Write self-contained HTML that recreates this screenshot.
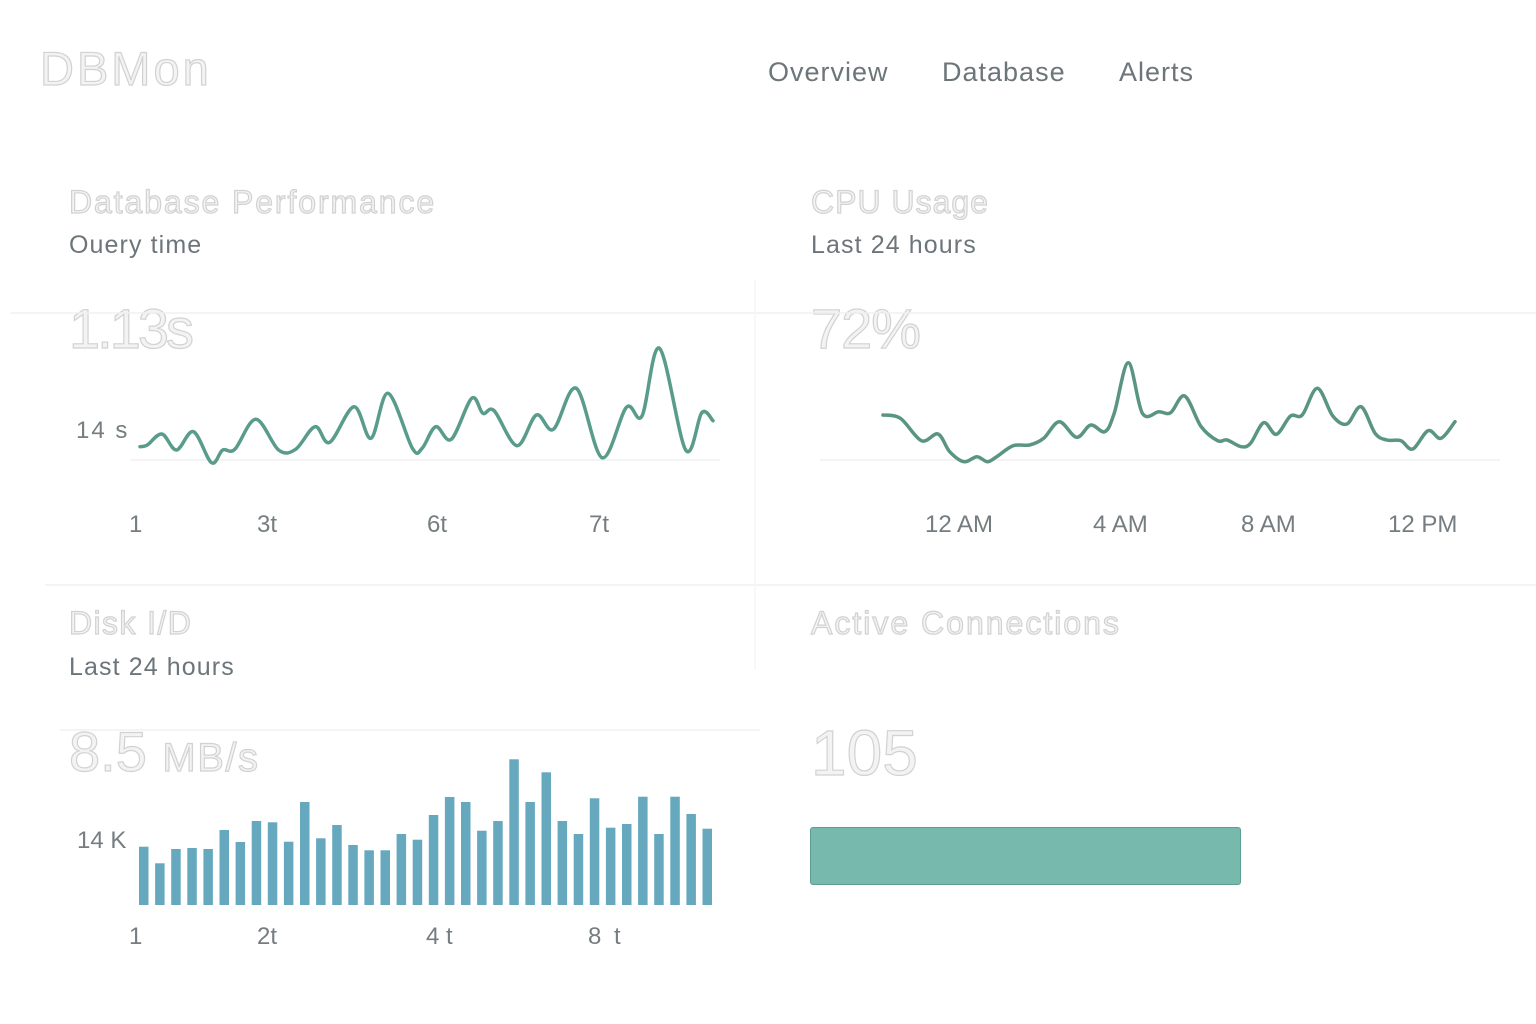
<!DOCTYPE html>
<html><head><meta charset="utf-8">
<style>
html,body{margin:0;padding:0;background:#fff;width:1536px;height:1024px;overflow:hidden;font-family:"Liberation Sans",sans-serif;}
.t{position:absolute;white-space:nowrap;}
.ghost{color:#f3f3f3;-webkit-text-stroke:1.2px #d2d2d2;}
.nav{color:#6c7579;font-size:27px;letter-spacing:1px;}
.sub{color:#6c7579;font-size:25px;letter-spacing:1.1px;}
.tick{color:#767d80;font-size:24px;}
</style></head><body>
<div class="t ghost" style="left:40px;top:41px;font-size:47px;letter-spacing:3px;">DBMon</div>
<div class="t nav" style="left:768px;top:57px;">Overview</div>
<div class="t nav" style="left:942px;top:57px;">Database</div>
<div class="t nav" style="left:1119px;top:57px;">Alerts</div>

<div class="t ghost" style="left:69px;top:184px;font-size:32px;letter-spacing:1.9px;">Database Performance</div>
<div class="t sub" style="left:69px;top:231px;">Ouery time</div>
<div class="t ghost" style="left:69px;top:296px;font-size:56px;letter-spacing:-3px;">1.13s</div>

<div class="t ghost" style="left:811px;top:184px;font-size:32px;letter-spacing:1px;">CPU Usage</div>
<div class="t sub" style="left:811px;top:231px;">Last 24 hours</div>
<div class="t ghost" style="left:811px;top:296px;font-size:56px;letter-spacing:-1px;">72%</div>

<div class="t ghost" style="left:69px;top:605px;font-size:32px;letter-spacing:1.4px;">Disk I/D</div>
<div class="t sub" style="left:69px;top:653px;">Last 24 hours</div>
<div class="t ghost" style="left:69px;top:719px;font-size:56px;letter-spacing:0px;">8.5 <span style="font-size:40px;letter-spacing:1.5px">MB/s</span></div>

<div class="t ghost" style="left:811px;top:605px;font-size:32px;letter-spacing:2px;">Active Connections</div>
<div class="t ghost" style="left:811px;top:716px;font-size:64px;letter-spacing:0px;">105</div>
<div style="position:absolute;left:810px;top:827px;width:429px;height:56px;background:#78b9ad;border:1px solid #5e9e92;border-radius:3px;"></div>

<div class="t tick" style="left:76px;top:417px;letter-spacing:2px;">14 s</div>
<div class="t tick" style="left:129px;top:511px;">1</div>
<div class="t tick" style="left:257px;top:511px;">3t</div>
<div class="t tick" style="left:427px;top:511px;">6t</div>
<div class="t tick" style="left:589px;top:511px;">7t</div>

<div class="t tick" style="left:925px;top:511px;">12 AM</div>
<div class="t tick" style="left:1093px;top:511px;">4 AM</div>
<div class="t tick" style="left:1241px;top:511px;">8 AM</div>
<div class="t tick" style="left:1388px;top:511px;">12 PM</div>

<div class="t tick" style="left:77px;top:827px;">14 K</div>
<div class="t tick" style="left:129px;top:923px;">1</div>
<div class="t tick" style="left:257px;top:923px;">2t</div>
<div class="t tick" style="left:426px;top:923px;">4 t</div>
<div class="t tick" style="left:588px;top:923px;letter-spacing:3px;">8 t</div>

<svg width="1536" height="1024" style="position:absolute;left:0;top:0" id="svg">
<g stroke="#f0f0f0" stroke-width="1.5">
<line x1="10" y1="313" x2="1540" y2="313"/>
<line x1="130" y1="460" x2="720" y2="460"/>
<line x1="820" y1="460" x2="1500" y2="460"/>
<line x1="45" y1="585" x2="1536" y2="585"/>
<line x1="60" y1="730" x2="760" y2="730"/>
</g>
<line x1="755" y1="280" x2="755" y2="670" stroke="#f5f5f5" stroke-width="1.5"/>
<path id="l1" fill="none" stroke="#5a9c8c" stroke-width="3.5" stroke-linejoin="round" stroke-linecap="round"/>
<path id="l2" fill="none" stroke="#5a9584" stroke-width="3.5" stroke-linejoin="round" stroke-linecap="round"/>
<g id="bars" fill="#66a9bf"></g>
</svg>
<script>
function sm(p){var d="M"+p[0][0].toFixed(1)+","+p[0][1].toFixed(1);
for(var i=0;i<p.length-1;i++){var p0=p[i-1]||p[i],p1=p[i],p2=p[i+1],p3=p[i+2]||p2;
var c1=[p1[0]+(p2[0]-p0[0])/6,p1[1]+(p2[1]-p0[1])/6],c2=[p2[0]-(p3[0]-p1[0])/6,p2[1]-(p3[1]-p1[1])/6];
d+="C"+c1[0].toFixed(1)+","+c1[1].toFixed(1)+" "+c2[0].toFixed(1)+","+c2[1].toFixed(1)+" "+p2[0].toFixed(1)+","+p2[1].toFixed(1);}return d;}
var a=[[290,500],[305,495],[335,462],[365,510],[400,455],[437,548],[460,510],[485,508],[528,418],[575,510],[610,508],[650,440],[680,487],[730,380],[765,475],[800,340],[850,505],[870,505],[898,440],[930,478],[972,355],[995,400],[1018,392],[1065,497],[1105,405],[1140,448],[1187,325],[1240,533],[1290,382],[1322,408],[1358,205],[1412,510],[1445,398],[1468,422]];
document.getElementById('l1').setAttribute('d',sm(a.map(function(q){return[140+(q[0]-290)*0.4864,280+q[1]/3]})));
var b=[[178,405],[215,415],[260,482],[295,462],[320,515],[350,545],[378,530],[400,545],[420,530],[455,497],[490,495],[520,475],[553,425],[590,472],[620,435],[650,455],[670,400],[700,248],[730,400],[765,395],[790,398],[820,348],[855,440],[890,482],[910,480],[940,500],[960,490],[988,428],[1015,463],[1045,408],[1070,405],[1102,325],[1135,408],[1165,432],[1195,380],[1225,460],[1250,480],[1280,482],[1305,507],[1338,452],[1365,475],[1395,425]];
document.getElementById('l2').setAttribute('d',sm(b.map(function(q){return[883+(q[0]-178)*0.47,280+q[1]/3]})));
var h=[320,370,327,324,327,270,306,243,247,305,186,295,255,315,331,331,282,299,225,171,186,272,243,58,186,97,243,282,175,263,252,170,282,170,222,266];
var g=document.getElementById('bars'),s="";
for(var i=0;i<h.length;i++){var x=139+i*16.1,y=740+h[i]/3;s+='<rect x="'+x.toFixed(1)+'" y="'+y.toFixed(1)+'" width="9.5" height="'+(905-y).toFixed(1)+'"/>';}
g.innerHTML=s;
</script>
</body></html>
